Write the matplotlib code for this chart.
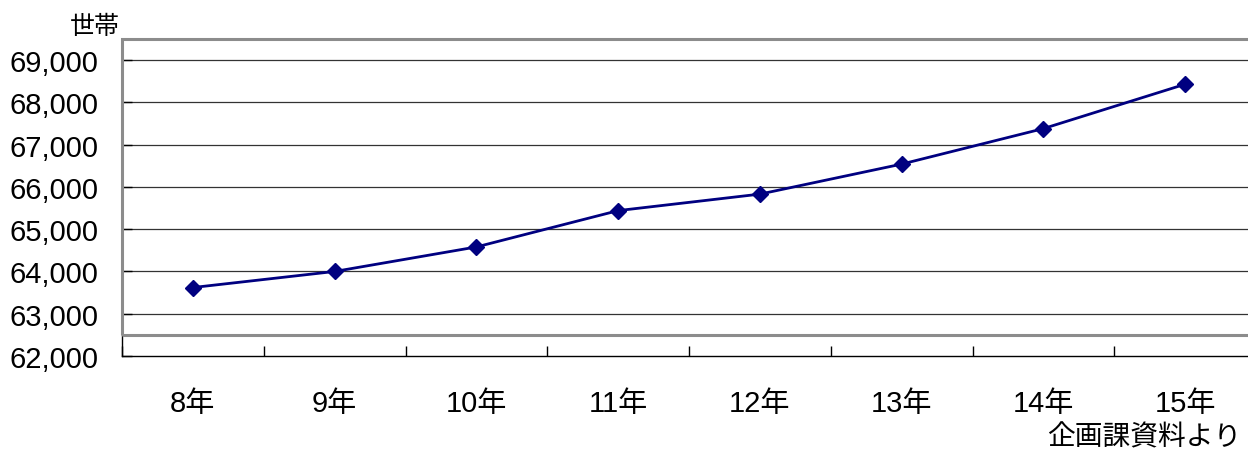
import matplotlib
matplotlib.use("Agg")
import matplotlib.pyplot as plt
from matplotlib.patches import Rectangle
from matplotlib.ticker import FuncFormatter, MultipleLocator, FixedLocator

# 世帯数の推移
years = ["8年", "9年", "10年", "11年", "12年", "13年", "14年", "15年"]
households = [63620, 64000, 64580, 65440, 65830, 66540, 67380, 68430]

y_min, y_max = 62000, 69500
y_step = 1000
frame_bottom = 62500

fonts = ["Liberation Sans", "Noto Sans CJK JP", "DejaVu Sans"]
plt.rcParams["font.family"] = fonts

fig = plt.figure(figsize=(12.48, 4.52), dpi=100)
ax = fig.add_axes([122 / 1248, 95 / 452, 1134 / 1248, 317 / 452])

x = list(range(len(years)))
ax.plot(x, households, color="#000080", lw=2.0, marker="D", ms=8.5,
        mfc="#000080", mec="#000080", zorder=4, clip_on=False)

ax.set_xlim(-0.5, len(years) - 0.5)
ax.set_ylim(y_min, y_max)

# horizontal gridlines
for v in range(y_min + y_step, 69001, y_step):
    ax.axhline(v, color="#333333", lw=0.9, zorder=1)

# plot-area frame
ax.add_patch(Rectangle((-0.5, frame_bottom), len(years), y_max - frame_bottom,
                       fill=False, edgecolor="#8c8c8c", lw=2.2, zorder=3,
                       clip_on=False))

for side in ("top", "right"):
    ax.spines[side].set_visible(False)
for side in ("left", "bottom"):
    ax.spines[side].set_color("black")
    ax.spines[side].set_linewidth(1.0)
    ax.spines[side].set_zorder(2)

ax.yaxis.set_major_locator(FixedLocator(list(range(y_min, 69001, y_step))))
ax.yaxis.set_major_formatter(FuncFormatter(lambda v, p: f"{int(v):,}"))
ax.tick_params(axis="y", direction="in", length=7, width=1, color="black",
               pad=17, labelsize=21)

ax.set_xticks(x)
ax.set_xticklabels(years)
ax.xaxis.set_minor_locator(MultipleLocator(1, offset=0.5))
ax.tick_params(axis="x", which="major", length=0, pad=24, labelsize=21)
ax.tick_params(axis="x", which="minor", direction="in", length=7, width=1,
               color="black")

fig.text(95 / 1248, 1 - 27 / 452, "世帯", fontsize=18, ha="center",
         va="center")
fig.text(1241 / 1248, 1 - 438 / 452, "企画課資料より", fontsize=20,
         ha="right", va="center")

fig.savefig("out.png", dpi=100, facecolor="white")
